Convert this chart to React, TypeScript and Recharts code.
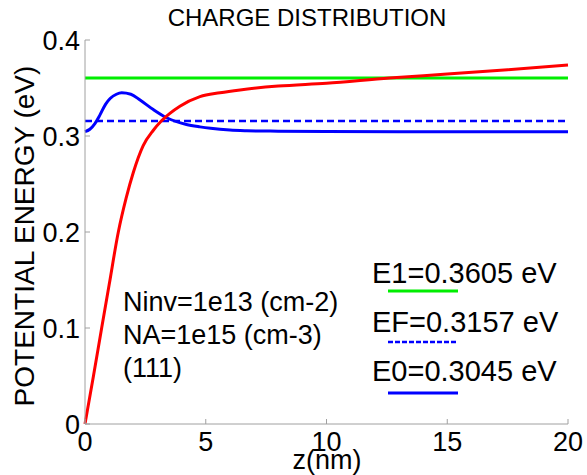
import { Line, LineChart, XAxis, YAxis } from "recharts";

// potential energy V(z), eV
const zPot = [0, 0.35, 0.69, 1.0, 1.38, 1.7, 2.0, 2.41, 2.83, 3.17, 3.93, 4.76, 5.59, 6.42, 8, 10, 12.6, 15, 17.5, 20];
const ePot = [0, 0.05, 0.1, 0.145, 0.2, 0.235, 0.262, 0.29, 0.306, 0.3158, 0.331, 0.341, 0.345, 0.348, 0.352, 0.355, 0.3605, 0.3645, 0.369, 0.374];

// charge distribution, drawn on top of E0
const zChg = [0, 0.2, 0.41, 0.62, 0.85, 1.04, 1.3, 1.52, 1.9, 2.28, 2.83, 3.38, 4.2, 4.76, 5.2, 6.0, 6.7, 8, 10, 14, 20];
const eChg = [0.3045, 0.307, 0.313, 0.322, 0.333, 0.339, 0.3435, 0.345, 0.3435, 0.3375, 0.3275, 0.319, 0.312, 0.3095, 0.308, 0.3062, 0.3055, 0.305, 0.3046, 0.3045, 0.3045];

const E1 = 0.3605;
const EF = 0.3157;
const E0 = 0.3045;

const xTicks = [0, 5, 10, 15, 20];
const yTicks = [0, 0.1, 0.2, 0.3, 0.4];

const notes = ["Ninv=1e13 (cm-2)", "NA=1e15 (cm-3)", "(111)"];
const legendRows = [
  { label: "E1=0.3605 eV", value: E1, color: "#00ee00", dash: false },
  { label: "EF=0.3157 eV", value: EF, color: "#0000ff", dash: true },
  { label: "E0=0.3045 eV", value: E0, color: "#0000ff", dash: false },
];

const FONT = '"Liberation Sans", Arial, sans-serif';
const BOX = "#a0a0a0";

const potData = zPot.map((z, i) => ({ z, v: ePot[i] }));
const chgData = zChg.map((z, i) => ({ z, v: eChg[i] }));
const flat = (v: number) => [{ z: 0, v }, { z: 20, v }];

const tickStyle = { fill: "#000", fontSize: 27, fontFamily: FONT };

export default function App() {
  return (
    <div style={{ position: "absolute", left: 0, top: 0, width: 587, height: 475, background: "#fff", fontFamily: FONT }}>
      <LineChart width={587} height={475} margin={{ top: 40, right: 19, bottom: 0, left: 0 }}>
        <XAxis
          xAxisId="b"
          type="number"
          dataKey="z"
          domain={[0, 20]}
          ticks={xTicks}
          height={51}
          stroke={BOX}
          tickSize={-5}
          tickMargin={13}
          tick={tickStyle}
          interval={0}
        />
        <XAxis
          xAxisId="t"
          orientation="top"
          type="number"
          dataKey="z"
          domain={[0, 20]}
          ticks={xTicks}
          height={0}
          stroke={BOX}
          tickSize={-5}
          tick={() => <g />}
          interval={0}
        />
        <YAxis
          yAxisId="l"
          type="number"
          domain={[0, 0.4]}
          ticks={yTicks}
          width={85}
          stroke={BOX}
          tickSize={-5}
          tickMargin={10}
          tick={tickStyle}
          tickFormatter={(v) => String(v)}
          interval={0}
        />
        <YAxis
          yAxisId="r"
          orientation="right"
          type="number"
          domain={[0, 0.4]}
          ticks={yTicks}
          width={0}
          stroke={BOX}
          tickSize={-5}
          tick={() => <g />}
          interval={0}
        />
        <Line xAxisId="t" yAxisId="r" data={flat(E1)} dataKey="v" stroke="#00ee00" strokeWidth={3} dot={false} isAnimationActive={false} />
        <Line xAxisId="b" yAxisId="l" data={flat(EF)} dataKey="v" stroke="#0000ff" strokeWidth={2.5} strokeDasharray="7 4" dot={false} isAnimationActive={false} />
        <Line xAxisId="b" yAxisId="l" data={chgData} dataKey="v" type="monotone" stroke="#0000ff" strokeWidth={3} dot={false} isAnimationActive={false} />
        <Line xAxisId="b" yAxisId="l" data={potData} dataKey="v" type="monotone" stroke="#ff0000" strokeWidth={3} dot={false} isAnimationActive={false} />
      </LineChart>

      <div style={{ position: "absolute", left: 107, width: 400, top: 4, lineHeight: "28px", fontSize: 24, textAlign: "center" }}>
        CHARGE DISTRIBUTION
      </div>
      <div
        style={{
          position: "absolute",
          left: 25 - 200,
          top: 236 - 15,
          width: 400,
          lineHeight: "30px",
          fontSize: 28,
          textAlign: "center",
          transform: "rotate(-90deg)",
          whiteSpace: "nowrap",
        }}
      >
        POTENTIAL ENERGY (eV)
      </div>
      <div style={{ position: "absolute", left: 227, width: 200, top: 445, lineHeight: "30px", fontSize: 27, textAlign: "center" }}>
        z(nm)
      </div>

      {notes.map((t, i) => (
        <div key={t} style={{ position: "absolute", left: 123, top: 287 + i * 33, lineHeight: "30px", fontSize: 27, whiteSpace: "nowrap" }}>
          {t}
        </div>
      ))}

      {legendRows.map((r, i) => (
        <div key={r.label}>
          <div style={{ position: "absolute", left: 372, top: 258 + i * 49, lineHeight: "30px", fontSize: 29, whiteSpace: "nowrap" }}>
            {r.label}
          </div>
          <svg style={{ position: "absolute", left: 386, top: 286 + i * 51 }} width={74} height={10}>
            <line
              x1={2}
              x2={72}
              y1={5}
              y2={5}
              stroke={r.color}
              strokeWidth={r.dash ? 2.5 : 3}
              strokeDasharray={r.dash ? "5 2" : undefined}
            />
          </svg>
        </div>
      ))}
    </div>
  );
}
